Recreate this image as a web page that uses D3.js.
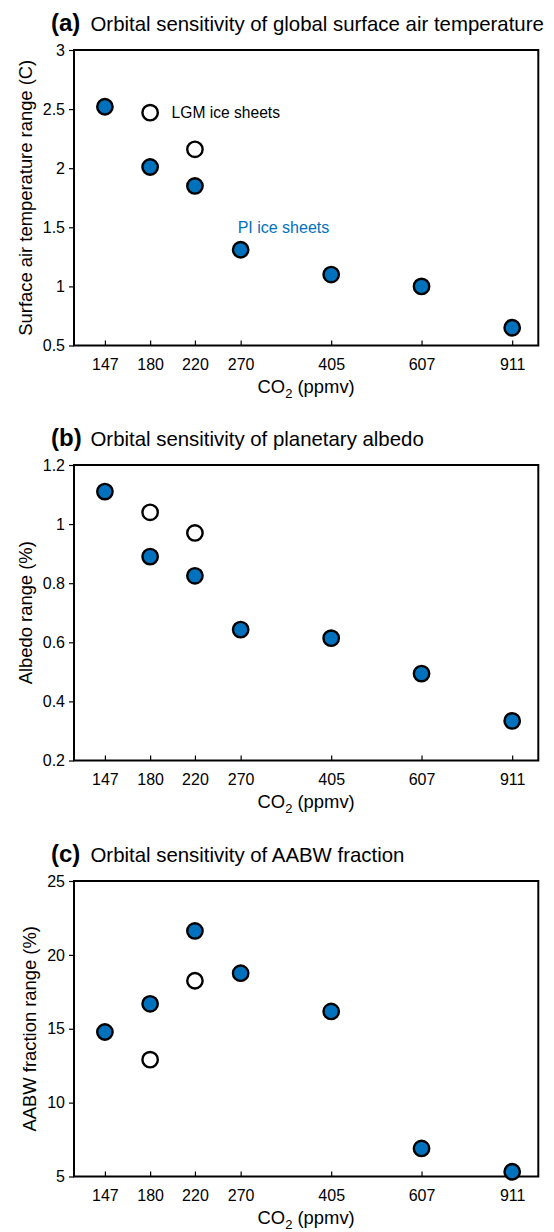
<!DOCTYPE html>
<html>
<head>
<meta charset="utf-8">
<script src="https://cdn.jsdelivr.net/npm/d3@7"></script>
<style>
  html, body { margin: 0; padding: 0; background: #fff; }
  svg { display: block; }
  text { font-family: "Liberation Sans", Arial, Helvetica, sans-serif; fill: #000; }
</style>
</head>
<body>
<svg id="chart" width="554" height="1232"></svg>
<script>
// ---- data ----
const co2 = [147, 180, 220, 270, 405, 607, 911];
const co2Ticks = [147, 180, 220, 270, 405, 607, 911];
const lgmCo2 = [180, 220];

const piTemp = [2.52, 2.01, 1.85, 1.31, 1.10, 1.00, 0.65];
const lgmTemp = [2.47, 2.16];

const piAlbedo = [1.11, 0.89, 0.825, 0.643, 0.614, 0.494, 0.334];
const lgmAlbedo = [1.04, 0.97];

const piAabw = [14.78, 16.69, 21.62, 18.76, 16.17, 6.9, 5.32];
const lgmAabw = [12.91, 18.25];

const tempTicks = [0.5, 1, 1.5, 2, 2.5, 3];
const albedoTicks = [0.2, 0.4, 0.6, 0.8, 1, 1.2];
const aabwTicks = [5, 10, 15, 20, 25];

const panelLetters = ["(a)", "(b)", "(c)"];
const panelTitles = [
  "Orbital sensitivity of global surface air temperature",
  "Orbital sensitivity of planetary albedo",
  "Orbital sensitivity of AABW fraction"
];
const yLabels = ["Surface air temperature range (C)", "Albedo range (%)", "AABW fraction range (%)"];

// ---- layout ----
const svg = d3.select("#chart");
const left = 74, right = 538.3, plotH = 295.5;
const tops = [50, 465, 881];
const yLabelX = [26, 26, 30];
const blue = "#0072bd";

const x = d3.scaleLog().domain([128, 1024]).range([left, right]);

const panels = [
  { pi: piTemp, lgm: lgmTemp, ticks: tempTicks, dom: [0.5, 3] },
  { pi: piAlbedo, lgm: lgmAlbedo, ticks: albedoTicks, dom: [0.2, 1.2] },
  { pi: piAabw, lgm: lgmAabw, ticks: aabwTicks, dom: [5, 25] }
];

panels.forEach((p, i) => {
  const top = tops[i], bottom = top + plotH;
  const y = d3.scaleLinear().domain(p.dom).range([bottom, top]);
  const g = svg.append("g");

  // title
  g.append("text").attr("x", 51).attr("y", top - 19)
    .attr("font-size", 24).attr("font-weight", "bold").text(panelLetters[i]);
  g.append("text").attr("x", 90.5).attr("y", top - 19)
    .attr("font-size", 20.4).text(panelTitles[i]);

  // x axis
  const xa = g.append("g").attr("transform", `translate(0,${bottom})`)
    .call(d3.axisBottom(x).tickValues(co2Ticks).tickFormat(d3.format("d"))
      .tickSizeInner(-5).tickSizeOuter(0).tickPadding(13));
  xa.select(".domain").remove();
  xa.selectAll("text").attr("font-size", 16).attr("font-family", null);
  xa.selectAll("line").attr("stroke-width", 1.2);

  // y axis
  const ya = g.append("g").attr("transform", `translate(${left},0)`)
    .call(d3.axisLeft(y).tickValues(p.ticks).tickFormat(d3.format("~g"))
      .tickSizeInner(5).tickSizeOuter(0).tickPadding(4));
  ya.select(".domain").remove();
  ya.selectAll("text").attr("font-size", 16).attr("font-family", null);
  ya.selectAll("line").attr("stroke-width", 1.2);

  // frame
  g.append("rect").attr("x", left).attr("y", top)
    .attr("width", right - left).attr("height", plotH)
    .attr("fill", "none").attr("stroke", "#000").attr("stroke-width", 2);

  // y label
  g.append("text")
    .attr("transform", `translate(${yLabelX[i]},${(top + bottom) / 2}) rotate(-90)`)
    .attr("text-anchor", "middle").attr("dy", "0.35em")
    .attr("font-size", 18.4).text(yLabels[i]);

  // x label
  const xl = g.append("text").attr("x", (left + right) / 2).attr("y", bottom + 47.5)
    .attr("text-anchor", "middle").attr("font-size", 18.4);
  xl.append("tspan").text("CO");
  xl.append("tspan").attr("font-size", 13).attr("dy", 5).text("2");
  xl.append("tspan").attr("dy", -5).text(" (ppmv)");

  // points
  g.selectAll("circle.pi").data(p.pi).join("circle")
    .attr("class", "pi")
    .attr("cx", (d, j) => x(co2[j])).attr("cy", d => y(d))
    .attr("r", 7.7).attr("fill", blue).attr("stroke", "#000").attr("stroke-width", 2.4);
  g.selectAll("circle.lgm").data(p.lgm).join("circle")
    .attr("class", "lgm")
    .attr("cx", (d, j) => x(lgmCo2[j])).attr("cy", d => y(d))
    .attr("r", 7.7).attr("fill", "#fff").attr("stroke", "#000").attr("stroke-width", 2.4);

  if (i === 0) {
    g.append("text").attr("x", x(180) + 21.5).attr("y", y(lgmTemp[0]) + 5.7)
      .attr("font-size", 15.6).text("LGM ice sheets");
    g.append("text").attr("x", x(270) - 3).attr("y", y(1.5) + 5.6)
      .attr("font-size", 16).style("fill", blue).text("PI ice sheets");
  }
});
</script>
</body>
</html>
